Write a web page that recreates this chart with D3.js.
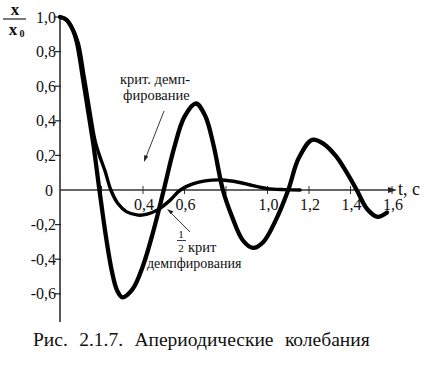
<!DOCTYPE html>
<html><head><meta charset="utf-8">
<script src="https://cdn.jsdelivr.net/npm/d3@7"></script>
<style>body{margin:0;background:#fff}svg{display:block}</style>
</head><body>
<svg id="c" width="423" height="369" font-family="'Liberation Serif','DejaVu Serif',serif" fill="#111"></svg>
<script>
// data
const tBig = [0,0.03,0.06,0.082,0.11,0.135,0.16,0.19,0.22,0.25,0.275,0.30,0.35,0.40,0.45,0.50,0.55,0.60,0.655,0.70,0.74,0.785,0.83,0.88,0.93,0.98,1.04,1.10,1.15,1.215,1.27,1.33,1.38,1.43,1.48,1.53,1.576];
const xBig = [1.0,0.985,0.93,0.85,0.65,0.46,0.27,0.0,-0.258,-0.47,-0.58,-0.62,-0.573,-0.438,-0.237,0.0,0.243,0.424,0.50,0.428,0.259,0.0,-0.157,-0.289,-0.335,-0.30,-0.174,0.0,0.183,0.29,0.267,0.196,0.105,0.0,-0.11,-0.155,-0.13];
const tHalf = [0,0.03,0.06,0.088,0.116,0.142,0.168,0.19,0.217,0.245,0.28,0.32,0.376,0.42,0.47,0.53,0.58,0.64,0.70,0.78,0.86,0.93,1.0,1.08,1.157];
const xHalf = [1.0,0.985,0.935,0.85,0.66,0.47,0.29,0.20,0.11,0.0,-0.08,-0.125,-0.145,-0.14,-0.115,-0.06,0.0,0.035,0.053,0.058,0.045,0.025,0.008,0.002,0.0];
const xTicks = [0.2,0.4,0.6,0.8,1.0,1.2,1.4,1.6];
const xTickLabels = {0.4:"0,4",0.6:"0,6",1.0:"1,0",1.2:"1,2",1.4:"1,4",1.6:"1,6"};
const yTicks = [1.0,0.8,0.6,0.4,0.2,0,-0.2,-0.4,-0.6];
const yTickLabels = ["1,0","0,8","0,6","0,4","0,2","0","-0,2","-0,4","-0,6"];
const caption = "Рис. 2.1.7. Апериодические колебания";

const svg = d3.select("#c");
const x = d3.scaleLinear().domain([0,1.6]).range([60,392]);
const y = d3.scaleLinear().domain([-0.763,1.0]).range([322,17]);

// axes
svg.append("line").attr("x1",60).attr("x2",60).attr("y1",y(1.0)).attr("y2",y(-0.763)).attr("stroke","#222").attr("stroke-width",1.5);
svg.append("line").attr("x1",60).attr("x2",394).attr("y1",y(0)).attr("y2",y(0)).attr("stroke","#333").attr("stroke-width",1.3);
svg.append("path").attr("d",`M${397},${y(0)} l-9,-3 l0,6 z`).attr("fill","#222");
svg.append("text").attr("x",398).attr("y",y(0)+5).attr("font-size",18).text("t, c");

// y ticks
yTicks.forEach((v,i)=>{
  if(v!==0) svg.append("line").attr("x1",55).attr("x2",61).attr("y1",y(v)).attr("y2",y(v)).attr("stroke","#222").attr("stroke-width",1.2);
  svg.append("text").attr("x",v===0?53:56).attr("y",y(v)).attr("dy","0.35em").attr("text-anchor","end").attr("font-size",16).text(yTickLabels[i]);
});
// x ticks
xTicks.forEach(v=>{
  svg.append("line").attr("x1",x(v)).attr("x2",x(v)).attr("y1",y(0)-4).attr("y2",y(0)+4).attr("stroke","#333").attr("stroke-width",1);
  if(xTickLabels[v]) svg.append("text").attr("x",x(v)+1).attr("y",210).attr("text-anchor","middle").attr("font-size",16).text(xTickLabels[v]);
});

// y label fraction
svg.append("text").attr("x",15).attr("y",15).attr("text-anchor","middle").attr("font-size",17).attr("font-weight","bold").text("x");
svg.append("line").attr("x1",3).attr("x2",26).attr("y1",19).attr("y2",19).attr("stroke","#222").attr("stroke-width",1.2);
svg.append("text").attr("x",13).attr("y",35).attr("text-anchor","middle").attr("font-size",17).attr("font-weight","bold").text("x");
svg.append("text").attr("x",22).attr("y",37).attr("text-anchor","middle").attr("font-size",10).attr("font-weight","bold").text("0");

// curves
const line = d3.line().curve(d3.curveCatmullRom.alpha(0.5));
svg.append("path").attr("d",line(tHalf.map((t,i)=>[x(t),y(xHalf[i])]))).attr("fill","none").attr("stroke","#000").attr("stroke-width",3.4).attr("stroke-linecap","round");
svg.append("path").attr("d",line(tBig.map((t,i)=>[x(t),y(xBig[i])]))).attr("fill","none").attr("stroke","#000").attr("stroke-width",4.3).attr("stroke-linecap","round");

// annotations
svg.append("text").attr("x",120).attr("y",84).attr("font-size",14.5).text("крит. демп-");
svg.append("text").attr("x",123).attr("y",100).attr("font-size",14.5).text("фирование");
svg.append("line").attr("x1",164).attr("y1",111).attr("x2",146).attr("y2",157).attr("stroke","#222").attr("stroke-width",0.9);
svg.append("path").attr("d","M144,162 l0.2,-7 l4,1.6 z").attr("fill","#222");

svg.append("line").attr("x1",190).attr("y1",232).attr("x2",171).attr("y2",213).attr("stroke","#222").attr("stroke-width",0.9);
svg.append("path").attr("d","M167,209 l6.5,2.5 l-2.8,2.8 z").attr("fill","#222");
svg.append("text").attr("x",181).attr("y",238).attr("text-anchor","middle").attr("font-size",11).text("1");
svg.append("line").attr("x1",177).attr("x2",186).attr("y1",240.5).attr("y2",240.5).attr("stroke","#222").attr("stroke-width",0.9);
svg.append("text").attr("x",181).attr("y",252).attr("text-anchor","middle").attr("font-size",11).text("2");
svg.append("text").attr("x",188).attr("y",252).attr("font-size",14.5).text("крит");
svg.append("text").attr("x",147).attr("y",268).attr("font-size",14).text("демпфирования");

// caption
svg.append("text").attr("x",33).attr("y",346).attr("font-size",19.5).attr("word-spacing",6.5).text(caption);
</script>
</body></html>
